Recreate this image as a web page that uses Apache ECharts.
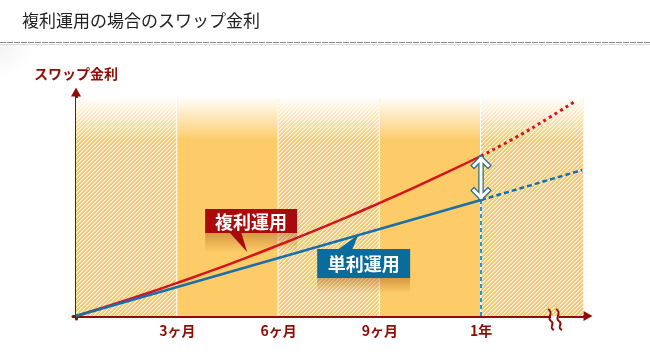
<!DOCTYPE html>
<html><head><meta charset="utf-8">
<script src="https://cdn.jsdelivr.net/npm/echarts@6/dist/echarts.min.js"></script>
<style>html,body{margin:0;padding:0;background:#fff}#c{width:650px;height:360px}</style>
</head><body><div id="c"></div>
<script>
// ---- data ----
const titleText = '複利運用の場合のスワップ金利';
const yAxisName = 'スワップ金利';
const tickValues = [3, 6, 9, 12];
const tickLabels = ['3ヶ月', '6ヶ月', '9ヶ月', '1年'];
const bandStarts = [0, 3, 6, 9, 12];
const bandEnds = [3, 6, 9, 12, 15.03];
const bandHatched = [true, false, true, false, true];
const bandTop = 2.18;
const bandFadeEnd = 1.76;
const compoundMonths = [0, 1, 2, 3, 4, 5, 6, 7, 8, 9, 10, 11, 12];
const compoundValues = [0, 0.105, 0.215, 0.331, 0.451, 0.577, 0.708, 0.843, 0.984, 1.131, 1.282, 1.438, 1.60];
const compoundFutureMonths = [12, 13, 14, 14.8];
const compoundFutureValues = [1.60, 1.78, 1.98, 2.15];
const simpleMonths = [0, 12];
const simpleValues = [0, 1.16];
const simpleFutureMonths = [12, 15];
const simpleFutureValues = [1.16, 1.46];
const calloutTexts = ['複利運用', '単利運用'];
const calloutMonths = [5.07, 8.36];
const calloutValues = [0.64, 0.81];
const breakMonth = 14.19;

const FONT = '"Noto Sans CJK JP", "Noto Sans", sans-serif';
const RED = '#d6121b', BLUE = '#1b6fa6', AXIS = '#8e0e06';

function makeHatch() {
  const c = document.createElement('canvas'); c.width = 4; c.height = 4;
  const ctx = c.getContext('2d');
  for (let x = 0; x < 4; x++) for (let y = 0; y < 4; y++) {
    const k = (x + y) % 4;
    ctx.fillStyle = k === 0 ? '#fffaf0' : (k === 1 ? '#fdd98f' : '#fcc85e');
    ctx.fillRect(x, y, 1, 1);
  }
  return c;
}
const hatch = makeHatch();
const zip = (a, b) => a.map((v, i) => [v, b[i]]);

const chart = echarts.init(document.getElementById('c'), null, {renderer: 'canvas'});
chart.setOption({
  animation: false,
  backgroundColor: '#ffffff',
  title: {text: titleText, left: 17, top: 7, textStyle: {fontFamily: FONT, fontSize: 17, fontWeight: 'normal', color: '#222'}},
  grid: {left: 73, right: 62, top: 92, bottom: 41, outerBoundsMode: 'none'},
  graphic: [
    {type: 'rect', shape: {x: 0, y: 44, width: 140, height: 34}, silent: true, z: -10,
     style: {fill: new echarts.graphic.RadialGradient(0, 0, 1, [{offset: 0, color: 'rgba(0,0,0,0.05)'}, {offset: 1, color: 'rgba(0,0,0,0)'}])}},
    {type: 'line', shape: {x1: 0, y1: 42.5, x2: 650, y2: 42.5}, style: {stroke: '#8a8a8a', lineWidth: 1, lineDash: [6, 1]}, silent: true},
    {type: 'line', shape: {x1: 0, y1: 44.5, x2: 650, y2: 44.5}, style: {stroke: '#dcdcdc', lineWidth: 1}, silent: true}
  ],
  xAxis: {
    type: 'value', min: -0.089, max: 15.17,
    splitLine: {show: false}, axisTick: {show: false},
    axisLine: {show: true, lineStyle: {color: AXIS, width: 3}, symbol: ['none', 'triangle'], symbolSize: [10, 9]},
    axisLabel: {customValues: tickValues, formatter: v => tickLabels[tickValues.indexOf(v)] || '',
      margin: 5, color: AXIS, fontFamily: FONT, fontSize: 14, fontWeight: 'bold'}
  },
  yAxis: {
    type: 'value', min: -0.03, max: 2.24,
    name: yAxisName, nameLocation: 'end', nameGap: 11,
    nameTextStyle: {color: AXIS, fontFamily: FONT, fontSize: 14, fontWeight: 'bold', align: 'center'},
    splitLine: {show: false}, axisTick: {show: false}, axisLabel: {show: false},
    axisLine: {show: true, lineStyle: {color: AXIS, width: 3}, symbol: ['none', 'triangle'], symbolSize: [10, 9]}
  },
  series: [
    { // background bands
      type: 'custom', z: 1, silent: true,
      data: bandStarts.map((s, i) => [s, bandEnds[i], bandHatched[i] ? 1 : 0]),
      renderItem: (params, api) => {
        const i = params.dataIndex;
        const p0 = api.coord([api.value(0), bandTop]);
        const p1 = api.coord([api.value(1), 0]);
        const pf = api.coord([api.value(1), bandFadeEnd]);
        const children = [
          {type: 'rect', shape: {x: p0[0], y: p0[1], width: p1[0] - p0[0], height: p1[1] - p0[1]},
           style: {fill: api.value(2) ? {image: hatch, repeat: 'repeat'} : '#fdcb67'}},
          {type: 'rect', shape: {x: p0[0], y: p0[1], width: p1[0] - p0[0], height: pf[1] - p0[1] + 1},
           style: {fill: new echarts.graphic.LinearGradient(0, 0, 0, 1, [{offset: 0, color: 'rgba(255,255,255,0.97)'}, {offset: 1, color: 'rgba(255,255,255,0)'}])}}
        ];
        if (i < bandStarts.length - 1) {
          children.push({type: 'line', shape: {x1: p1[0], y1: p0[1], x2: p1[0], y2: p1[1]}, style: {stroke: '#ffffff', lineWidth: 2}});
        }
        return {type: 'group', children};
      }
    },
    {type: 'line', z: 4, data: [[12, 0], [12, simpleValues[1]]], showSymbol: false, silent: true,
     lineStyle: {color: '#1c9ad6', width: 2, type: [4, 3]}},
    {type: 'line', z: 5, data: zip(compoundMonths, compoundValues), smooth: true, showSymbol: false, silent: true,
     lineStyle: {color: RED, width: 2.5}},
    {type: 'line', z: 5, data: zip(compoundFutureMonths, compoundFutureValues), smooth: true, showSymbol: false, silent: true,
     lineStyle: {color: RED, width: 3, type: [3, 3.5]}},
    {type: 'line', z: 6, data: zip(simpleMonths, simpleValues), showSymbol: false, silent: true,
     lineStyle: {color: BLUE, width: 2.5}},
    {type: 'line', z: 6, data: zip(simpleFutureMonths, simpleFutureValues), showSymbol: false, silent: true,
     lineStyle: {color: BLUE, width: 2.5, type: [5, 3]}},
    { // gap arrow
      type: 'custom', z: 8, silent: true,
      data: [[12, compoundValues[12], simpleValues[1]]],
      renderItem: (params, api) => {
        const a = api.coord([api.value(0), api.value(1)]);
        const b = api.coord([api.value(0), api.value(2)]);
        const x = a[0], t = a[1] + 1.5, btm = b[1] - 1.5;
        const pts = [
          [[x - 7, t + 8], [x, t + 1], [x + 7, t + 8]],
          [[x, t + 1], [x, btm - 1]],
          [[x - 7, btm - 8], [x, btm - 1], [x + 7, btm - 8]]
        ];
        const children = [];
        pts.forEach(p => children.push({type: 'polyline', shape: {points: p}, style: {stroke: '#2f6f86', lineWidth: 5.5, fill: null, lineJoin: 'miter', lineCap: 'square'}}));
        pts.forEach(p => children.push({type: 'polyline', shape: {points: p}, style: {stroke: '#ffffff', lineWidth: 3, fill: null, lineJoin: 'miter', lineCap: 'square'}}));
        return {type: 'group', children};
      }
    },
    { // callouts
      type: 'custom', z: 9, silent: true,
      data: calloutMonths.map((m, i) => [m, calloutValues[i]]),
      renderItem: (params, api) => {
        const i = params.dataIndex;
        const p = api.coord([api.value(0), api.value(1)]);
        const tx = p[0], ty = p[1];
        let box, tail, shadow, fill;
        if (i === 0) {
          box = {x: tx - 42, y: ty - 43, width: 92, height: 24};
          tail = [[tx - 18, ty - 20], [tx - 6, ty - 20], [tx, ty]];
          shadow = {x: tx - 42, y: ty - 19, width: 92, height: 19};
          fill = '#a80b0b';
        } else {
          box = {x: tx - 41, y: ty + 14, width: 93, height: 29};
          tail = [[tx - 21, ty + 15], [tx - 6, ty + 15], [tx, ty]];
          shadow = {x: tx - 41, y: ty + 43, width: 93, height: 15};
          fill = '#0b6c9c';
        }
        return {type: 'group', children: [
          {type: 'rect', shape: shadow, style: {fill: new echarts.graphic.LinearGradient(0, 0, 0, 1, [{offset: 0, color: 'rgba(150,70,0,0.38)'}, {offset: 1, color: 'rgba(150,70,0,0)'}])}},
          {type: 'polygon', shape: {points: tail}, style: {fill}},
          {type: 'rect', shape: box, style: {fill}},
          {type: 'text', style: {text: calloutTexts[i], x: box.x + box.width / 2, y: box.y + box.height / 2 + 1,
            align: 'center', verticalAlign: 'middle', fill: '#ffffff', font: 'bold 18px ' + FONT}}
        ]};
      }
    },
    { // axis break mark
      type: 'custom', z: 10, silent: true,
      data: [[breakMonth, -0.03]],
      renderItem: (params, api) => {
        const c = api.coord([api.value(0), api.value(1)]);
        const cx = c[0], cy = c[1];
        const wave = dx => {
          const x = cx + dx;
          return `M${x - 3},${cy - 10} C${x + 4},${cy - 6} ${x - 5},${cy - 1} ${x},${cy + 2} C${x + 5},${cy + 5} ${x - 3},${cy + 8} ${x + 3},${cy + 11}`;
        };
        return {type: 'group', children: [
          {type: 'rect', shape: {x: cx - 4, y: cy - 3, width: 8, height: 6}, style: {fill: '#ffffff'}},
          {type: 'path', shape: {pathData: wave(-4)}, style: {stroke: AXIS, lineWidth: 2, fill: null}},
          {type: 'path', shape: {pathData: wave(4)}, style: {stroke: AXIS, lineWidth: 2, fill: null}}
        ]};
      }
    }
  ]
});
</script></body></html>
